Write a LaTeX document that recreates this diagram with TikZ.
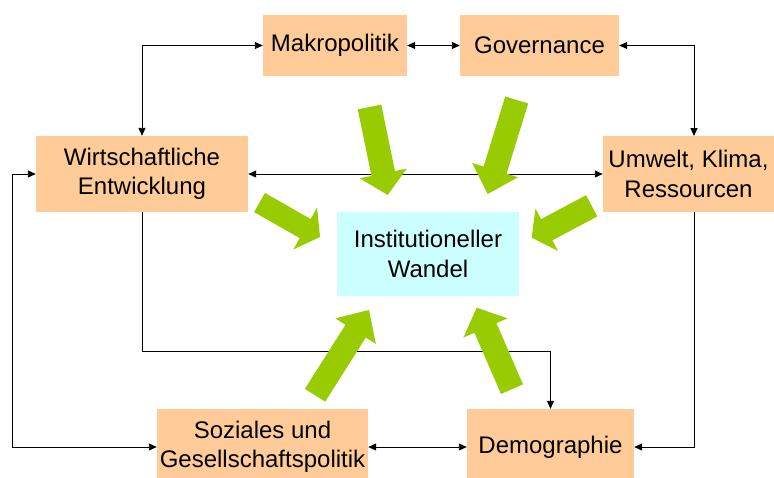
\documentclass[tikz,border=0pt]{standalone}
\usepackage{fontspec}
\setmainfont{Liberation Sans}
\usetikzlibrary{arrows.meta,calc}
\definecolor{peach}{HTML}{FFCC99}
\definecolor{lcyan}{HTML}{CCFFFF}
\definecolor{agreen}{HTML}{99CC00}
% tail, tip, head length, shaft half width, head half width
\newcommand\greenarrow[5]{%
  \fill[agreen] let \p1=(#1), \p2=(#2),
    \n1={atan2(\y2-\y1,\x2-\x1)},
    \n2={veclen(\x2-\x1,\y2-\y1)-#3pt},
    \n3={(#5-#4)*1pt} in
    ($(#1)+(\n1+90:#4 pt)$) -- ++(\n1:\n2) -- ++(\n1+90:\n3) -- (#2)
    -- ($(#2)+(\n1+180:#3 pt)+(\n1-90:#5 pt)$) -- ++(\n1+90:\n3)
    -- ++(\n1+180:\n2) -- cycle;}
\begin{document}
\begin{tikzpicture}[x=1pt,y=-1pt,
  box/.style={fill=peach, inner sep=0pt, align=center, font=\fontsize{24}{29.5}\selectfont},
  conn/.style={line width=0.9pt},
  >={Triangle[length=8pt,width=7pt]}]
\useasboundingbox (0,0) rectangle (774,477);
\clip (0,0) rectangle (774,477);
\fill[white] (0,0) rectangle (774,477);

\node[box, minimum width=144pt, minimum height=61pt] (mak) at (335,45.5) {Makropolitik};
\node[box, minimum width=159pt, minimum height=61pt] (gov) at (539.5,45.5) {Governance};
\node[box, minimum width=212pt, minimum height=76pt] (wir) at (142,174) {Wirtschaftliche\\Entwicklung};
\node[box, minimum width=171pt, minimum height=76pt] (umw) at (688.5,174) {Umwelt, Klima,\\Ressourcen};
\node[box, fill=lcyan, minimum width=182pt, minimum height=84pt] (inst) at (428,254) {Institutioneller\\Wandel};
\node[box, minimum width=211pt, minimum height=76pt] (soz) at (262.5,447) {Soziales und\\Gesellschaftspolitik};
\node[box, minimum width=167pt, minimum height=76pt] (dem) at (550.5,447) {Demographie};

\coordinate (gr) at (694,136);
\coordinate (c1) at (142,351);
\coordinate (lc) at (12,174);
\coordinate (ub) at (694,212);

\draw[conn,<->] (mak.west) -| (wir.north);
\draw[conn,<->] (mak.east) -- (gov.west);
\draw[conn,<->] (gov.east) -| (gr);
\draw[conn,<->] (wir.east) -- (umw.west);
\draw[conn,->] (wir.south) -- (c1) -| (dem.north);
\draw[conn,<->] (soz.west) -| (lc) -- (wir.west);
\draw[conn,<->] (soz.east) -- (dem.west);
\draw[conn,->] (ub) |- (dem.east);

\coordinate (g1a) at (369.5,107);   \coordinate (g1b) at (387.7,195);
\coordinate (g2a) at (516.7,100);   \coordinate (g2b) at (487.7,194);
\coordinate (g3a) at (259.5,202.5); \coordinate (g3b) at (320,237);
\coordinate (g4a) at (591.7,205.8); \coordinate (g4b) at (531.7,237.7);
\coordinate (g5a) at (315,395.3);   \coordinate (g5b) at (369,310);
\coordinate (g6a) at (512,389.2);   \coordinate (g6b) at (476.7,307.7);
\greenarrow{g1a}{g1b}{22}{12}{24}
\greenarrow{g2a}{g2b}{25}{12}{24}
\greenarrow{g3a}{g3b}{17}{11}{24}
\greenarrow{g4a}{g4b}{17}{12}{24}
\greenarrow{g5a}{g5b}{25}{12}{24}
\greenarrow{g6a}{g6b}{22}{12}{24}
\end{tikzpicture}
\end{document}
